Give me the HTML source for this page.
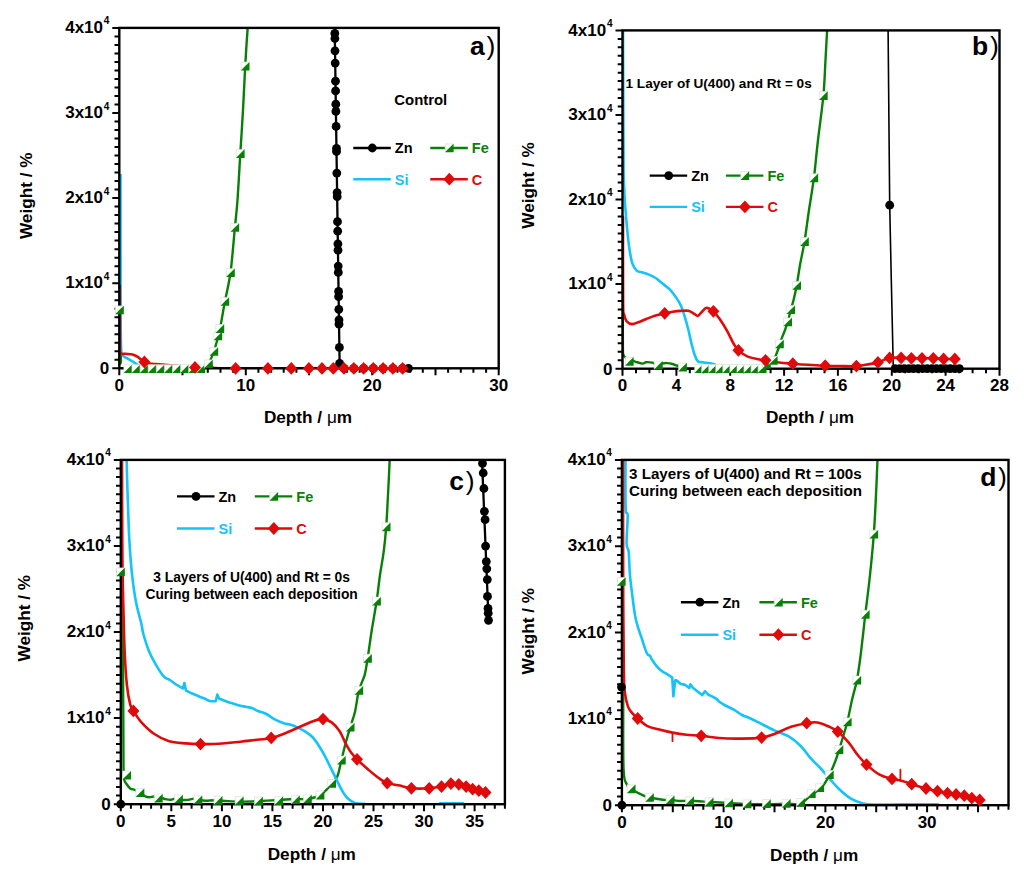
<!DOCTYPE html>
<html><head><meta charset="utf-8"><style>
html,body{margin:0;padding:0;background:#fff;}
svg{display:block;}
text{font-family:"Liberation Sans", sans-serif;}
.t{font-size:17px;font-weight:bold;fill:#000;}
.s{font-size:10px;font-weight:bold;fill:#000;}
.ti{font-size:17.2px;font-weight:bold;fill:#000;}
.mu{font-weight:normal;}
.lg{font-size:14.5px;font-weight:bold;}
.ann{font-size:14.5px;font-weight:bold;fill:#000;}
.pl{font-size:26.5px;font-weight:bold;fill:#000;}
.pr{font-size:26.5px;fill:#000;}
</style></head><body>
<svg width="1024" height="877" viewBox="0 0 1024 877">
<defs>
<circle id="zn" r="4.4" fill="#000"/>
<path id="c" d="M0 -6.4L6 0L0 6.4L-6 0Z" fill="#e00a0a"/>
<g id="fe"><path d="M-4.1 4.1L-4.1 -4.1L4.1 -4.1Z" fill="#fff" stroke="#cfe6cf" stroke-width="0.7"/><path d="M-4.3 4.3L4.3 -4.3L4.3 4.3Z" fill="#088008"/></g>
</defs>
<rect width="1024" height="877" fill="#fff"/>
<clipPath id="cpa"><rect x="119.3" y="27.9" width="379.4" height="340.4"/></clipPath>
<g clip-path="url(#cpa)">
<polyline points="334.7,28 339.6,363 340.2,368.3 408.5,368.3" fill="none" stroke="#000" stroke-width="2.3" stroke-linejoin="round" stroke-linecap="round"/>
<path d="M119.5 310C119.7 315 120.2 331.3 120.5 340C120.8 348.7 120.8 357.2 121 362C121.2 366.8 107.8 367.5 122 368.6C136.2 369.7 191.6 369.4 206 368.6C220.4 367.8 207.2 366.9 208.5 364C209.8 361.1 212 357.3 213.9 351.5C215.8 345.7 218.1 337.3 219.9 329C221.7 320.7 223.1 310.9 224.9 301.5C226.7 292.1 228.8 284.8 230.5 272.5C232.2 260.2 233.7 239.6 234.9 227.5C236.1 215.4 236.6 212.3 237.5 200C238.4 187.7 239.4 168.6 240.3 153.6C241.2 138.6 242.2 124.6 243 110C243.8 95.4 244.6 77 245.2 66.2C245.8 55.4 246.1 51.4 246.5 45C246.9 38.6 247.5 30.8 247.7 28" fill="none" stroke="#088008" stroke-width="2.4" stroke-linejoin="round" stroke-linecap="round"/>
<path d="M120.5 175C120.5 195.8 120.5 271.5 120.6 300C120.7 328.5 120.7 337 121 346C121.3 355 121.7 352.2 122.3 354C122.9 355.8 123.6 356.2 124.5 357C125.4 357.8 126.4 357.9 127.7 358.6C129.1 359.4 131.2 360.6 132.6 361.5C134 362.4 134.9 363.1 136 363.8C137.1 364.5 138.5 365.2 139 365.5" fill="none" stroke="#14c3f7" stroke-width="2.6" stroke-linejoin="round" stroke-linecap="round"/>
<path d="M119.8 285.8C119.8 294.8 119.9 328.8 120 340C120.1 351.2 119.6 350.5 120.4 352.8C121.2 355.1 122.8 353.5 124.8 353.8C126.8 354.1 130.3 353.8 132.6 354.4C134.9 355 136.4 356 138.4 357.3C140.4 358.6 142 361.1 144.3 362.2C146.6 363.3 149.7 363.3 152.1 363.7C154.5 364.1 155.2 364 159 364.3C162.8 364.6 169 365.1 175 365.6C181 366.1 188.3 366.9 195 367.3C201.7 367.7 208.2 367.8 215 368C221.8 368.2 204.3 368.2 235.6 368.3C266.9 368.4 374.8 368.4 402.6 368.4" fill="none" stroke="#e00a0a" stroke-width="2.6" stroke-linejoin="round" stroke-linecap="round"/>
</g>
<rect x="119.3" y="27.9" width="379.4" height="340.4" fill="none" stroke="#000" stroke-width="2.4"/>
<path d="M119.3 368.3v7 M131.9 368.3v4.5 M144.6 368.3v4.5 M157.2 368.3v4.5 M169.9 368.3v4.5 M182.5 368.3v7 M195.2 368.3v4.5 M207.8 368.3v4.5 M220.5 368.3v4.5 M233.1 368.3v4.5 M245.8 368.3v7 M258.4 368.3v4.5 M271.1 368.3v4.5 M283.7 368.3v4.5 M296.4 368.3v4.5 M309 368.3v7 M321.6 368.3v4.5 M334.3 368.3v4.5 M346.9 368.3v4.5 M359.6 368.3v4.5 M372.2 368.3v7 M384.9 368.3v4.5 M397.5 368.3v4.5 M410.2 368.3v4.5 M422.8 368.3v4.5 M435.5 368.3v7 M448.1 368.3v4.5 M460.8 368.3v4.5 M473.4 368.3v4.5 M486.1 368.3v4.5 M498.7 368.3v7 M119.3 368.3h-7 M119.3 359.8h-4.8 M119.3 351.3h-4.8 M119.3 342.8h-4.8 M119.3 334.3h-4.8 M119.3 325.8h-4.8 M119.3 317.2h-4.8 M119.3 308.7h-4.8 M119.3 300.2h-4.8 M119.3 291.7h-4.8 M119.3 283.2h-7 M119.3 274.7h-4.8 M119.3 266.2h-4.8 M119.3 257.7h-4.8 M119.3 249.2h-4.8 M119.3 240.6h-4.8 M119.3 232.1h-4.8 M119.3 223.6h-4.8 M119.3 215.1h-4.8 M119.3 206.6h-4.8 M119.3 198.1h-7 M119.3 189.6h-4.8 M119.3 181.1h-4.8 M119.3 172.6h-4.8 M119.3 164.1h-4.8 M119.3 155.6h-4.8 M119.3 147h-4.8 M119.3 138.5h-4.8 M119.3 130h-4.8 M119.3 121.5h-4.8 M119.3 113h-7 M119.3 104.5h-4.8 M119.3 96h-4.8 M119.3 87.5h-4.8 M119.3 79h-4.8 M119.3 70.4h-4.8 M119.3 61.9h-4.8 M119.3 53.4h-4.8 M119.3 44.9h-4.8 M119.3 36.4h-4.8 M119.3 27.9h-7" stroke="#000" stroke-width="2" fill="none"/>
<text x="109.3" y="374.1" text-anchor="end" class="t">0</text>
<text x="103" y="288.4" text-anchor="end" class="t">1x10</text>
<text x="103.7" y="279.7" class="s">4</text>
<text x="103" y="203.3" text-anchor="end" class="t">2x10</text>
<text x="103.7" y="194.6" class="s">4</text>
<text x="103" y="118.2" text-anchor="end" class="t">3x10</text>
<text x="103.7" y="109.5" class="s">4</text>
<text x="103" y="33.1" text-anchor="end" class="t">4x10</text>
<text x="103.7" y="24.4" class="s">4</text>
<text x="119.3" y="390.6" text-anchor="middle" class="t">0</text>
<text x="245.8" y="390.6" text-anchor="middle" class="t">10</text>
<text x="372.2" y="390.6" text-anchor="middle" class="t">20</text>
<text x="498.7" y="390.6" text-anchor="middle" class="t">30</text>
<text transform="translate(31.6 195.8) rotate(-90)" text-anchor="middle" class="ti">Weight / %</text>
<text x="308" y="423.1" text-anchor="middle" class="ti">Depth / <tspan class="mu">μ</tspan>m</text>
<use href="#zn" x="334.8" y="33.4"/>
<use href="#zn" x="334.9" y="38.5"/>
<use href="#zn" x="335" y="50.8"/>
<use href="#zn" x="335.2" y="63.1"/>
<use href="#zn" x="335.5" y="81.2"/>
<use href="#zn" x="335.6" y="90.9"/>
<use href="#zn" x="335.8" y="104.2"/>
<use href="#zn" x="335.9" y="111.4"/>
<use href="#zn" x="336.1" y="126.4"/>
<use href="#zn" x="336.5" y="148.4"/>
<use href="#zn" x="336.5" y="151.5"/>
<use href="#zn" x="336.8" y="173.1"/>
<use href="#zn" x="337.1" y="192.6"/>
<use href="#zn" x="337.2" y="196.7"/>
<use href="#zn" x="337.5" y="221.7"/>
<use href="#zn" x="337.7" y="231.2"/>
<use href="#zn" x="337.9" y="243.9"/>
<use href="#zn" x="338" y="250.2"/>
<use href="#zn" x="338.2" y="266.1"/>
<use href="#zn" x="338.3" y="272.4"/>
<use href="#zn" x="338.6" y="291.4"/>
<use href="#zn" x="338.6" y="296.7"/>
<use href="#zn" x="338.8" y="309.4"/>
<use href="#zn" x="339" y="319.9"/>
<use href="#zn" x="339" y="324.2"/>
<use href="#zn" x="339.4" y="347.4"/>
<use href="#zn" x="339.6" y="363.3"/>
<use href="#zn" x="344" y="368.3"/>
<use href="#zn" x="353.8" y="368.3"/>
<use href="#zn" x="363.6" y="368.3"/>
<use href="#zn" x="373.3" y="368.3"/>
<use href="#zn" x="383.1" y="368.3"/>
<use href="#zn" x="392.9" y="368.3"/>
<use href="#zn" x="402.6" y="368.3"/>
<use href="#zn" x="408.5" y="368.3"/>
<use href="#fe" x="119.5" y="310"/>
<use href="#fe" x="128" y="368.8"/>
<use href="#fe" x="136.1" y="368.8"/>
<use href="#fe" x="144.2" y="368.8"/>
<use href="#fe" x="152.3" y="368.8"/>
<use href="#fe" x="160.4" y="368.8"/>
<use href="#fe" x="168.5" y="368.8"/>
<use href="#fe" x="176.6" y="368.8"/>
<use href="#fe" x="184.7" y="368.8"/>
<use href="#fe" x="192.8" y="368.8"/>
<use href="#fe" x="200.9" y="368.8"/>
<use href="#fe" x="208.5" y="364"/>
<use href="#fe" x="213.9" y="351.5"/>
<use href="#fe" x="217.9" y="336"/>
<use href="#fe" x="219.9" y="328.6"/>
<use href="#fe" x="224.9" y="301.5"/>
<use href="#fe" x="230.5" y="272.8"/>
<use href="#fe" x="234.9" y="227.5"/>
<use href="#fe" x="240.3" y="153.6"/>
<use href="#fe" x="245.2" y="66.2"/>
<use href="#c" x="144.4" y="362"/>
<use href="#c" x="195" y="367.4"/>
<use href="#c" x="235.6" y="368.4"/>
<use href="#c" x="267.9" y="368.4"/>
<use href="#c" x="291.3" y="368.4"/>
<use href="#c" x="308.9" y="368.4"/>
<use href="#c" x="322" y="368.4"/>
<use href="#c" x="333.3" y="368.4"/>
<use href="#c" x="344" y="368.4"/>
<use href="#c" x="353.8" y="368.4"/>
<use href="#c" x="363.6" y="368.4"/>
<use href="#c" x="373.3" y="368.4"/>
<use href="#c" x="383.1" y="368.4"/>
<use href="#c" x="392.9" y="368.4"/>
<use href="#c" x="402.6" y="368.4"/>
<clipPath id="cpb"><rect x="622.5" y="30.4" width="377" height="338.3"/></clipPath>
<g clip-path="url(#cpb)">
<polyline points="888.1,30.7 889.7,205.2 891.3,280 893.3,368.4 960,368.6" fill="none" stroke="#000" stroke-width="1.6" stroke-linejoin="round" stroke-linecap="round"/>
<path d="M622.8 300C622.8 308.1 622.8 339.5 622.9 348.7C623 357.9 623.3 353.7 623.7 355.2C624.1 356.7 624.5 356.5 625.5 357.5C626.5 358.5 628.1 360.8 629.4 361.4C630.7 362 632.4 360.9 633.4 361C634.4 361.1 634.1 361.4 635.6 361.8C637.1 362.2 640.9 363.5 642.6 363.6C644.4 363.7 644.5 362.4 646.1 362.2C647.7 362 650.2 362.2 652.3 362.7C654.3 363.2 656.8 365.1 658.4 365.3C660 365.5 660.5 364 662 363.6C663.5 363.2 665.5 363 667.2 363.1C669 363.2 671 363.6 672.5 364C674 364.4 674.3 364.8 676 365.3C677.7 365.8 680.3 366.6 682.6 367.1C684.9 367.6 677.1 368.2 690 368.4C702.9 368.6 747.5 368.8 760 368.4C772.5 368 762.8 367.3 765 366C767.2 364.7 771 363.6 773.3 360.5C775.6 357.4 777.6 350.7 778.8 347.5C780 344.3 779.5 344.4 780.5 341.5C781.5 338.6 783.8 333.2 785 330C786.2 326.8 786.7 325.4 787.7 322C788.7 318.6 789.8 313.3 790.8 309.7C791.8 306.1 792.5 304.3 793.5 300.3C794.5 296.3 795.6 291.4 796.7 285.5C797.8 279.6 798.7 272.3 800 265C801.3 257.7 803 250.8 804.5 241.6C806 232.4 807.4 220.6 809 210C810.6 199.4 812.4 189.6 813.9 177.9C815.4 166.2 816.4 153.7 818 140C819.6 126.3 822.1 108.9 823.4 95.6C824.6 82.3 824.9 70.8 825.5 60C826.1 49.2 826.8 35.5 827.1 30.6" fill="none" stroke="#088008" stroke-width="2.4" stroke-linejoin="round" stroke-linecap="round"/>
<path d="M623 30.8C623 42.3 623.2 76.8 623.3 100C623.4 123.2 623.4 155 623.6 170C623.8 185 624 184.1 624.3 190C624.5 195.9 624.6 198.8 625.1 205.2C625.6 211.6 626.4 221.2 627.1 228.5C627.8 235.8 628.5 243 629.4 248.8C630.3 254.6 631.1 259.8 632.3 263.4C633.5 267 635.2 269.2 636.7 270.6C638.2 272 639.1 271.4 641 272C642.9 272.6 645.9 273.4 648.3 274.4C650.7 275.4 653.3 276.6 655.6 278C657.9 279.4 659.5 281.2 661.9 283.1C664.2 285 667.4 287 669.7 289.4C672 291.8 674.1 294.6 675.9 297.2C677.7 299.8 679.2 301.9 680.6 305C682 308.1 683.2 311.7 684.5 315.9C685.8 320.1 687.2 325.3 688.4 330C689.6 334.7 690.5 339.8 691.6 344C692.7 348.2 693.7 352.1 694.7 355C695.7 357.9 696.5 360 697.8 361.2C699.1 362.4 700.7 362 702.5 362.3C704.3 362.6 706.7 362.8 708.8 363.1C710.8 363.5 714 364.2 715 364.4" fill="none" stroke="#14c3f7" stroke-width="2.6" stroke-linejoin="round" stroke-linecap="round"/>
<path d="M623 217C623 231.4 622.9 287.2 623.1 303.4C623.3 319.6 623.5 311.4 624.1 314.4C624.7 317.4 625.4 319.8 626.7 321.4C628.1 323 630.2 324 632.2 324.1C634.2 324.2 636 323.1 638.4 322.2C640.8 321.3 643.4 320.1 646.3 319C649.2 317.9 652.5 316.6 655.6 315.6C658.7 314.7 661.8 314 664.7 313.3C667.6 312.6 670.1 312.1 672.8 311.7C675.4 311.3 678 311 680.6 310.9C683.2 310.8 686.2 310.4 688.4 310.8C690.6 311.2 692.3 312.8 693.9 313.6C695.5 314.5 696.6 316 697.8 315.9C699 315.8 699.6 314.1 700.9 312.8C702.2 311.5 704.2 308.8 705.6 308.1C707 307.4 707.7 308 709 308.5C710.3 309 711.6 309.6 713.4 311.3C715.2 313.1 717.4 315.6 719.7 319C722.1 322.4 725.2 327.4 727.5 331.6C729.8 335.8 731.9 340.9 733.8 344C735.6 347.1 736.1 348.2 738.4 350.3C740.7 352.4 743.4 354.9 747.8 356.6C752.2 358.3 759.8 359.5 765 360.5C770.2 361.5 774.4 362 779 362.5C783.6 363 788 363.3 792.8 363.7C797.6 364.1 802.6 364.5 808 364.8C813.4 365.1 819.9 365.5 825.2 365.7C830.5 365.9 834.8 365.9 840 366C845.2 366.1 851.9 366.4 856.4 366.1C860.9 365.9 863.4 365.1 867 364.5C870.6 363.9 874.1 363.5 877.9 362.4C881.7 361.3 885.7 358.6 889.6 357.9C893.5 357.1 897.5 357.8 901.1 357.9C904.7 358 907.9 358.2 911.4 358.3C914.9 358.4 918.4 358.3 922 358.3C925.6 358.3 929.7 358.2 933.3 358.3C936.9 358.4 940 358.9 943.6 359C947.2 359.1 952.9 359 954.8 359" fill="none" stroke="#e00a0a" stroke-width="2.6" stroke-linejoin="round" stroke-linecap="round"/>
</g>
<rect x="622.5" y="30.4" width="377" height="338.3" fill="none" stroke="#000" stroke-width="2.4"/>
<path d="M622.5 368.7v7 M636 368.7v4.5 M649.4 368.7v4.5 M662.9 368.7v4.5 M676.4 368.7v7 M689.8 368.7v4.5 M703.3 368.7v4.5 M716.8 368.7v4.5 M730.2 368.7v7 M743.7 368.7v4.5 M757.1 368.7v4.5 M770.6 368.7v4.5 M784.1 368.7v7 M797.5 368.7v4.5 M811 368.7v4.5 M824.5 368.7v4.5 M837.9 368.7v7 M851.4 368.7v4.5 M864.9 368.7v4.5 M878.3 368.7v4.5 M891.8 368.7v7 M905.2 368.7v4.5 M918.7 368.7v4.5 M932.2 368.7v4.5 M945.6 368.7v7 M959.1 368.7v4.5 M972.6 368.7v4.5 M986 368.7v4.5 M999.5 368.7v7 M622.5 368.7h-7 M622.5 360.2h-4.8 M622.5 351.8h-4.8 M622.5 343.3h-4.8 M622.5 334.9h-4.8 M622.5 326.4h-4.8 M622.5 318h-4.8 M622.5 309.5h-4.8 M622.5 301h-4.8 M622.5 292.6h-4.8 M622.5 284.1h-7 M622.5 275.7h-4.8 M622.5 267.2h-4.8 M622.5 258.8h-4.8 M622.5 250.3h-4.8 M622.5 241.8h-4.8 M622.5 233.4h-4.8 M622.5 224.9h-4.8 M622.5 216.5h-4.8 M622.5 208h-4.8 M622.5 199.5h-7 M622.5 191.1h-4.8 M622.5 182.6h-4.8 M622.5 174.2h-4.8 M622.5 165.7h-4.8 M622.5 157.3h-4.8 M622.5 148.8h-4.8 M622.5 140.3h-4.8 M622.5 131.9h-4.8 M622.5 123.4h-4.8 M622.5 115h-7 M622.5 106.5h-4.8 M622.5 98.1h-4.8 M622.5 89.6h-4.8 M622.5 81.1h-4.8 M622.5 72.7h-4.8 M622.5 64.2h-4.8 M622.5 55.8h-4.8 M622.5 47.3h-4.8 M622.5 38.9h-4.8 M622.5 30.4h-7" stroke="#000" stroke-width="2" fill="none"/>
<text x="612.5" y="374.5" text-anchor="end" class="t">0</text>
<text x="606.2" y="289.3" text-anchor="end" class="t">1x10</text>
<text x="606.9" y="280.6" class="s">4</text>
<text x="606.2" y="204.7" text-anchor="end" class="t">2x10</text>
<text x="606.9" y="196" class="s">4</text>
<text x="606.2" y="120.2" text-anchor="end" class="t">3x10</text>
<text x="606.9" y="111.5" class="s">4</text>
<text x="606.2" y="35.6" text-anchor="end" class="t">4x10</text>
<text x="606.9" y="26.9" class="s">4</text>
<text x="622.5" y="391" text-anchor="middle" class="t">0</text>
<text x="676.4" y="391" text-anchor="middle" class="t">4</text>
<text x="730.2" y="391" text-anchor="middle" class="t">8</text>
<text x="784.1" y="391" text-anchor="middle" class="t">12</text>
<text x="837.9" y="391" text-anchor="middle" class="t">16</text>
<text x="891.8" y="391" text-anchor="middle" class="t">20</text>
<text x="945.6" y="391" text-anchor="middle" class="t">24</text>
<text x="999.5" y="391" text-anchor="middle" class="t">28</text>
<text transform="translate(533.5 185.4) rotate(-90)" text-anchor="middle" class="ti">Weight / %</text>
<text x="810" y="423.4" text-anchor="middle" class="ti">Depth / <tspan class="mu">μ</tspan>m</text>
<use href="#zn" x="889.7" y="205.2"/>
<use href="#zn" x="895" y="368.6"/>
<use href="#zn" x="899.6" y="368.6"/>
<use href="#zn" x="904.2" y="368.6"/>
<use href="#zn" x="908.8" y="368.6"/>
<use href="#zn" x="913.4" y="368.6"/>
<use href="#zn" x="918" y="368.6"/>
<use href="#zn" x="922.6" y="368.6"/>
<use href="#zn" x="927.2" y="368.6"/>
<use href="#zn" x="931.8" y="368.6"/>
<use href="#zn" x="936.4" y="368.6"/>
<use href="#zn" x="941" y="368.6"/>
<use href="#zn" x="945.6" y="368.6"/>
<use href="#zn" x="950.2" y="368.6"/>
<use href="#zn" x="954.8" y="368.6"/>
<use href="#zn" x="959.4" y="368.6"/>
<use href="#fe" x="629.4" y="361.4"/>
<use href="#fe" x="658.4" y="365.3"/>
<use href="#fe" x="682.6" y="367.1"/>
<use href="#fe" x="698.8" y="368.6"/>
<use href="#fe" x="705.8" y="368.6"/>
<use href="#fe" x="712.9" y="368.6"/>
<use href="#fe" x="719.9" y="368.6"/>
<use href="#fe" x="727" y="368.6"/>
<use href="#fe" x="734" y="368.6"/>
<use href="#fe" x="741.1" y="368.6"/>
<use href="#fe" x="748.1" y="368.6"/>
<use href="#fe" x="755.2" y="368.6"/>
<use href="#fe" x="762.2" y="368.6"/>
<use href="#fe" x="766.5" y="364.5"/>
<use href="#fe" x="773.3" y="360.5"/>
<use href="#fe" x="779.5" y="344"/>
<use href="#fe" x="787.7" y="322"/>
<use href="#fe" x="790.8" y="309.7"/>
<use href="#fe" x="796.7" y="285.5"/>
<use href="#fe" x="804.5" y="241.6"/>
<use href="#fe" x="813.9" y="177.9"/>
<use href="#fe" x="823.4" y="95.6"/>
<use href="#c" x="664.7" y="313.3"/>
<use href="#c" x="713.4" y="311.3"/>
<use href="#c" x="738.4" y="350.3"/>
<use href="#c" x="765.5" y="360.3"/>
<use href="#c" x="792.8" y="363.7"/>
<use href="#c" x="825.2" y="365.7"/>
<use href="#c" x="856.4" y="366.1"/>
<use href="#c" x="877.9" y="362.4"/>
<use href="#c" x="889.6" y="357.9"/>
<use href="#c" x="901.1" y="357.9"/>
<use href="#c" x="911.4" y="358.3"/>
<use href="#c" x="922" y="358.3"/>
<use href="#c" x="933.3" y="358.3"/>
<use href="#c" x="943.6" y="359"/>
<use href="#c" x="954.8" y="359"/>
<clipPath id="cpc"><rect x="120.8" y="459.9" width="384.1" height="344.3"/></clipPath>
<g clip-path="url(#cpc)">
<polyline points="482,459.9 488.6,621" fill="none" stroke="#000" stroke-width="2.3" stroke-linejoin="round" stroke-linecap="round"/>
<path d="M121.5 572C121.7 580 122.3 598.7 122.6 620C122.9 641.3 123 675.5 123.2 700C123.4 724.5 123.3 753.7 123.5 767C123.7 780.3 123.7 776.8 124.2 779.6C124.7 782.4 125.5 782.5 126.5 784C127.5 785.5 128.9 787.4 130.3 788.4C131.7 789.4 133.2 789.3 135 790C136.8 790.7 139.2 791.7 140.9 792.8C142.6 793.9 143.9 795.7 145.3 796.4C146.8 797.1 148.2 797.2 149.6 797.2C151 797.2 152.2 796.5 154 796.5C155.8 796.5 158.4 796.8 160.2 797.2C162 797.6 163.2 798.6 165 799C166.8 799.4 168.9 799.9 170.7 799.8C172.5 799.7 174.1 798.5 176 798.5C177.9 798.5 179.9 799.8 182 800C184.1 800.2 186.1 800 188.3 799.8C190.5 799.5 193.1 798.5 195 798.5C196.9 798.5 198.2 799.6 200 800C201.8 800.4 203.4 800.7 205.9 800.7C208.4 800.7 211.8 800.2 215 800.2C218.2 800.2 220.7 800.8 225 801C229.3 801.2 235.2 801.6 241 801.6C246.8 801.6 253.6 801.3 260 801C266.4 800.7 273.9 800.3 279.4 800C284.9 799.7 288.1 799.2 293 799C297.9 798.8 304 799.6 308.5 799C313 798.4 317 796.7 320.1 795.1C323.2 793.5 325 791.2 326.9 789.3C328.8 787.4 329.9 785.8 331.7 783.5C333.5 781.2 336 779.6 337.6 775.7C339.2 771.8 339.9 766 341.4 760.2C342.8 754.4 344.8 746.3 346.3 740.8C347.8 735.3 348.8 732.1 350.2 727.3C351.6 722.4 353.6 717.9 355 711.7C356.4 705.6 357.3 696.5 358.9 690.4C360.5 684.3 363.2 680.2 364.7 674.9C366.1 669.6 366.4 665.9 367.6 658.4C368.8 650.9 370.3 639.5 371.8 630C373.3 620.5 375.2 610.4 376.6 601.2C378 592 378.8 583.4 380 575C381.2 566.6 382.8 558.9 383.8 550.9C384.8 542.9 385.5 536.2 386.2 526.9C386.9 517.6 387.4 506.2 388 495C388.6 483.8 389.4 465.7 389.7 459.8" fill="none" stroke="#088008" stroke-width="2.4" stroke-linejoin="round" stroke-linecap="round"/>
<path d="M126.6 460C126.8 466.2 127.2 484 127.7 497.2C128.2 510.4 128.6 526.8 129.3 539.4C130 552 130.8 562.6 131.9 573.1C133 583.6 134.5 594.2 136.1 602.6C137.7 611 140.2 618.6 141.4 623.7C142.6 628.8 141.9 628.6 143.1 633C144.3 637.4 146.6 645.2 148.6 650.3C150.6 655.3 152.6 659 155.1 663.3C157.6 667.6 161.2 673.5 163.7 676.3C166.2 679.1 167.9 678.6 170 680C172.1 681.4 173.8 683.1 176 684.5C178.2 685.9 181.8 687.8 182.9 688.5L182.9 688.5L184.4 682.9L186 690.5L186 690.5C187 691 190.3 692.8 192 693.5C193.7 694.2 194.4 694.3 196 695C197.6 695.7 200.1 696.9 201.6 697.5C203.1 698.1 203.6 698.2 205 698.8C206.4 699.4 208 700.6 209.8 701C211.6 701.4 214.7 701.2 215.7 701.2L215.7 701.2L217.3 694.6L219.2 698.7L219.2 698.7C220 699 222.4 699.9 224 700.5C225.6 701.1 226.9 701.7 228.6 702.2C230.3 702.8 232.1 703.2 234 703.8C235.9 704.4 238.3 705.2 240.3 705.7C242.3 706.2 244.1 706.4 246 706.8C247.9 707.2 250 707.4 252 708.1C254 708.8 256.2 710.3 257.9 711C259.6 711.7 260.4 711.6 262 712.2C263.6 712.8 265.2 713.3 267.3 714.5C269.4 715.7 271.6 717.7 274.3 719.2C277 720.7 281.1 722.4 283.7 723.3C286.3 724.2 288.1 724 290 724.5C291.9 725 292.5 725.2 294.9 726.3C297.3 727.4 301.7 729.3 304.6 731.1C307.5 732.9 310.1 734.7 312.4 737C314.7 739.3 316.3 741.8 318.2 744.7C320.1 747.6 322.1 750.9 324 754.4C325.9 757.9 327.9 762.1 329.8 766C331.7 769.9 333.7 773.8 335.6 777.7C337.5 781.6 339.4 785.9 341.4 789.3C343.3 792.7 345 795.7 347.3 798C349.6 800.3 352.1 801.9 355 802.9C357.9 803.9 363.1 803.7 364.7 803.9" fill="none" stroke="#14c3f7" stroke-width="2.6" stroke-linejoin="round" stroke-linecap="round"/>
<polyline points="440,803.3 463,803.3" fill="none" stroke="#14c3f7" stroke-width="2.6" stroke-linejoin="round" stroke-linecap="round"/>
<path d="M122 460C122.1 476.7 122.1 533.3 122.4 560C122.7 586.7 123.3 604.6 123.7 620C124.1 635.4 124.2 641.7 124.7 652.5C125.2 663.3 126 676.4 126.9 685C127.8 693.6 129.1 700.1 130.2 704.4C131.3 708.7 131.6 708 133.4 710.9C135.2 713.8 137.6 718 141 721.8C144.4 725.6 149.3 730.5 154 733.7C158.7 736.9 163.7 739.6 169.1 741.2C174.5 742.8 181.2 742.9 186.4 743.4C191.6 743.9 195.1 744 200.5 744.1C205.9 744.2 212.2 744.2 218.9 743.8C225.6 743.4 234.6 742.3 240.6 741.7C246.6 741.1 249.8 740.6 255 740C260.2 739.4 266.9 738.9 271.6 737.9C276.3 736.9 278.8 735.8 283.3 734C287.8 732.2 294 729.4 298.8 727.3C303.6 725.2 308.4 722.8 312.4 721.4C316.4 720 319.8 718.9 323 719.1C326.2 719.3 328.9 720.4 331.7 722.4C334.4 724.4 337.2 727.7 339.5 731.1C341.8 734.5 343.4 739.2 345.3 742.8C347.2 746.4 349.2 749.8 351.1 752.5C353.1 755.2 354.1 756.4 357 759.3C359.9 762.2 365.1 766.8 368.6 769.9C372.2 773 375.2 775.5 378.3 777.7C381.4 779.9 383.4 781.8 387 783.1C390.6 784.4 395.9 784.7 400 785.6C404.1 786.5 406.5 787.8 411.4 788.3C416.3 788.8 424.2 788.6 429.2 788.3C434.2 788 437.9 787.4 441.5 786.6C445.1 785.8 448 784 450.9 783.6C453.8 783.2 456.3 783.8 458.8 784.3C461.3 784.8 463.8 785.8 466.1 786.6C468.4 787.4 470.5 788.5 472.6 789.2C474.7 789.9 476.7 790.1 478.8 790.6C480.9 791.1 484.4 792.2 485.5 792.5" fill="none" stroke="#e00a0a" stroke-width="2.6" stroke-linejoin="round" stroke-linecap="round"/>
</g>
<rect x="120.8" y="459.9" width="384.1" height="344.3" fill="none" stroke="#000" stroke-width="2.4"/>
<path d="M120.8 804.2v7 M130.9 804.2v4.5 M141 804.2v4.5 M151.1 804.2v4.5 M161.2 804.2v4.5 M171.3 804.2v7 M181.4 804.2v4.5 M191.6 804.2v4.5 M201.7 804.2v4.5 M211.8 804.2v4.5 M221.9 804.2v7 M232 804.2v4.5 M242.1 804.2v4.5 M252.2 804.2v4.5 M262.3 804.2v4.5 M272.4 804.2v7 M282.5 804.2v4.5 M292.6 804.2v4.5 M302.7 804.2v4.5 M312.8 804.2v4.5 M323 804.2v7 M333.1 804.2v4.5 M343.2 804.2v4.5 M353.3 804.2v4.5 M363.4 804.2v4.5 M373.5 804.2v7 M383.6 804.2v4.5 M393.7 804.2v4.5 M403.8 804.2v4.5 M413.9 804.2v4.5 M424 804.2v7 M434.1 804.2v4.5 M444.3 804.2v4.5 M454.4 804.2v4.5 M464.5 804.2v4.5 M474.6 804.2v7 M484.7 804.2v4.5 M494.8 804.2v4.5 M504.9 804.2v4.5 M120.8 804.2h-7 M120.8 795.6h-4.8 M120.8 787h-4.8 M120.8 778.4h-4.8 M120.8 769.8h-4.8 M120.8 761.2h-4.8 M120.8 752.6h-4.8 M120.8 743.9h-4.8 M120.8 735.3h-4.8 M120.8 726.7h-4.8 M120.8 718.1h-7 M120.8 709.5h-4.8 M120.8 700.9h-4.8 M120.8 692.3h-4.8 M120.8 683.7h-4.8 M120.8 675.1h-4.8 M120.8 666.5h-4.8 M120.8 657.9h-4.8 M120.8 649.3h-4.8 M120.8 640.7h-4.8 M120.8 632h-7 M120.8 623.4h-4.8 M120.8 614.8h-4.8 M120.8 606.2h-4.8 M120.8 597.6h-4.8 M120.8 589h-4.8 M120.8 580.4h-4.8 M120.8 571.8h-4.8 M120.8 563.2h-4.8 M120.8 554.6h-4.8 M120.8 546h-7 M120.8 537.4h-4.8 M120.8 528.8h-4.8 M120.8 520.2h-4.8 M120.8 511.5h-4.8 M120.8 502.9h-4.8 M120.8 494.3h-4.8 M120.8 485.7h-4.8 M120.8 477.1h-4.8 M120.8 468.5h-4.8 M120.8 459.9h-7" stroke="#000" stroke-width="2" fill="none"/>
<text x="110.8" y="810" text-anchor="end" class="t">0</text>
<text x="104.5" y="723.3" text-anchor="end" class="t">1x10</text>
<text x="105.2" y="714.6" class="s">4</text>
<text x="104.5" y="637.2" text-anchor="end" class="t">2x10</text>
<text x="105.2" y="628.5" class="s">4</text>
<text x="104.5" y="551.2" text-anchor="end" class="t">3x10</text>
<text x="105.2" y="542.5" class="s">4</text>
<text x="104.5" y="465.1" text-anchor="end" class="t">4x10</text>
<text x="105.2" y="456.4" class="s">4</text>
<text x="120.8" y="826.5" text-anchor="middle" class="t">0</text>
<text x="171.3" y="826.5" text-anchor="middle" class="t">5</text>
<text x="221.9" y="826.5" text-anchor="middle" class="t">10</text>
<text x="272.4" y="826.5" text-anchor="middle" class="t">15</text>
<text x="323" y="826.5" text-anchor="middle" class="t">20</text>
<text x="373.5" y="826.5" text-anchor="middle" class="t">25</text>
<text x="424" y="826.5" text-anchor="middle" class="t">30</text>
<text x="474.6" y="826.5" text-anchor="middle" class="t">35</text>
<text transform="translate(29.5 618.2) rotate(-90)" text-anchor="middle" class="ti">Weight / %</text>
<text x="311.8" y="860.2" text-anchor="middle" class="ti">Depth / <tspan class="mu">μ</tspan>m</text>
<use href="#zn" x="482.5" y="463.4"/>
<use href="#zn" x="483.2" y="473"/>
<use href="#zn" x="483.9" y="488.5"/>
<use href="#zn" x="484.4" y="511.3"/>
<use href="#zn" x="485.1" y="519.7"/>
<use href="#zn" x="485.6" y="546.1"/>
<use href="#zn" x="486.3" y="561.6"/>
<use href="#zn" x="486.8" y="568.8"/>
<use href="#zn" x="487.3" y="579.6"/>
<use href="#zn" x="487.5" y="596.4"/>
<use href="#zn" x="488" y="608.4"/>
<use href="#zn" x="488.2" y="613.2"/>
<use href="#zn" x="488.5" y="620.3"/>
<use href="#zn" x="120.8" y="804.2"/>
<use href="#fe" x="120.6" y="572"/>
<use href="#fe" x="126.8" y="775.2"/>
<use href="#fe" x="140" y="792.8"/>
<use href="#fe" x="158.4" y="798.1"/>
<use href="#fe" x="178.6" y="799"/>
<use href="#fe" x="198" y="799.8"/>
<use href="#fe" x="218.2" y="800.4"/>
<use href="#fe" x="239.3" y="800.7"/>
<use href="#fe" x="258.6" y="801"/>
<use href="#fe" x="278.8" y="800.8"/>
<use href="#fe" x="295.5" y="799.8"/>
<use href="#fe" x="307.5" y="799"/>
<use href="#fe" x="320.1" y="795.1"/>
<use href="#fe" x="331.7" y="783.5"/>
<use href="#fe" x="341.4" y="760.2"/>
<use href="#fe" x="350.2" y="727.3"/>
<use href="#fe" x="358.9" y="690.4"/>
<use href="#fe" x="367.6" y="658.4"/>
<use href="#fe" x="376.6" y="601.2"/>
<use href="#fe" x="386.2" y="526.9"/>
<use href="#c" x="133.4" y="710.9"/>
<use href="#c" x="200.5" y="744.1"/>
<use href="#c" x="271.2" y="737.9"/>
<use href="#c" x="323" y="719.1"/>
<use href="#c" x="357" y="759.3"/>
<use href="#c" x="387.2" y="783.1"/>
<use href="#c" x="411.4" y="788.3"/>
<use href="#c" x="429.2" y="788.3"/>
<use href="#c" x="441.5" y="786.6"/>
<use href="#c" x="450.9" y="783.6"/>
<use href="#c" x="458.8" y="784.3"/>
<use href="#c" x="466.1" y="786.6"/>
<use href="#c" x="472.6" y="789.2"/>
<use href="#c" x="478.8" y="790.6"/>
<use href="#c" x="485.5" y="792.5"/>
<clipPath id="cpd"><rect x="621.9" y="459.9" width="386.6" height="345.3"/></clipPath>
<g clip-path="url(#cpd)">
<polyline points="621.6,687 621.9,805" fill="none" stroke="#000" stroke-width="2.3" stroke-linejoin="round" stroke-linecap="round"/>
<path d="M622.5 581.5C622.6 597.9 623 649 623.2 680C623.4 711 622.9 749.8 623.5 767.2C624.1 784.6 625.6 780.9 626.9 784.5C628.2 788.1 628.5 787.1 631.2 788.9C633.9 790.7 640 794 643.1 795.4C646.2 796.8 646.4 796.8 649.6 797.5C652.9 798.2 659.2 799.3 662.6 799.7C666 800.1 667.3 799.5 670.2 799.7C673.1 799.9 676.8 800.8 680 801C683.2 801.2 684.8 800.6 689.7 800.8C694.6 800.9 702.7 801.5 709.2 801.9C715.7 802.3 722.4 802.6 728.7 803C735 803.4 740.8 803.8 747.1 804C753.4 804.2 760 804.2 766.5 804.2C773 804.2 780.6 803.9 786.3 803.8C792 803.7 796.5 804.9 800.7 803.4C804.9 801.9 808.2 797.4 811.4 795C814.6 792.6 817.5 791 819.8 789C822.1 787 823.4 785.3 825 783C826.6 780.7 827.7 778.5 829.4 775C831.1 771.5 833.4 766.2 835 762C836.6 757.8 837.7 754.2 839 750C840.3 745.8 841.6 741.7 843 737C844.4 732.3 845.8 728.2 847.3 722C848.8 715.8 850.4 707 852 700C853.6 693 855.6 686.9 856.9 680.2C858.2 673.5 859 667.5 860 660C861 652.5 862.1 642.6 863 635C863.9 627.4 864.1 624.4 865.3 614.4C866.5 604.4 868.6 588.4 870 575C871.4 561.6 872.8 547.6 873.8 534.3C874.8 521 875.4 507.4 876 495C876.6 482.6 877.2 465.8 877.5 460" fill="none" stroke="#088008" stroke-width="2.4" stroke-linejoin="round" stroke-linecap="round"/>
<path d="M625.5 460C625.5 466.7 625.4 491.3 625.5 500C625.6 508.7 625.6 509.3 626 512C626.4 514.7 627.6 510.9 627.7 516.2C627.8 521.5 626.4 537.6 626.6 543.6C626.8 549.6 628.2 547.1 628.7 552C629.2 556.9 629.3 566.4 629.8 573.1C630.3 579.8 631 585.1 631.9 592.1C632.8 599.1 634 609.3 635 615.3C636 621.3 637 623.8 638.2 627.9C639.4 632 641.1 636.4 642.3 640C643.5 643.6 644.4 647 645.3 649.4C646.2 651.8 646.8 653.4 647.6 654.5C648.4 655.6 649.3 655 650 655.8C650.7 656.6 650.6 657.6 651.7 659.3C652.8 661 654.8 663.9 656.4 665.8C658 667.7 659.5 669.2 661.1 670.5C662.7 671.8 663.9 672.2 665.8 673.4C667.6 674.6 671.1 676.8 672.2 677.5L672.2 677.5L673.4 696.3L675.2 680.4L675.2 680.4C675.5 680.4 675.9 680 676.9 680.6C677.9 681.2 679.6 683.3 681 684C682.4 684.7 683.7 684.1 685.1 684.8C686.5 685.5 688.5 687.5 689.2 688L689.2 688L690.4 684.3L692.7 687.5L692.7 687.5C693.3 688 694.7 689.1 696.3 690.4C697.9 691.7 701.1 694.3 702.1 695.1L702.1 695.1L705 691.2L708 694.5L708 694.5C709.4 695.2 714.2 697.3 716.2 698.6C718.2 699.9 718.3 701 719.7 702.1C721.1 703.2 722 703.7 724.4 705C726.8 706.3 730.9 708 733.8 709.7C736.7 711.4 739.7 713.7 742 715C744.3 716.3 744.8 715.9 747.8 717.3C750.8 718.7 755.6 721 760 723.2C764.4 725.4 769.6 728.2 774.4 730.4C779.2 732.6 784.3 733.8 788.7 736.4C793.1 739 797.1 742.4 800.7 746C804.3 749.6 807.1 754.3 810.3 757.9C813.5 761.5 816.6 764.1 819.8 767.5C823 770.9 826.2 774.7 829.4 778.3C832.6 781.9 835.4 785.6 839 789C842.6 792.4 846.9 796.2 850.9 798.6C854.9 801 859.3 802.4 862.9 803.4C866.5 804.4 866.3 804.4 872.5 804.6C878.7 804.8 889.1 804.5 900 804.4C910.9 804.3 931.7 804.2 938 804.2" fill="none" stroke="#14c3f7" stroke-width="2.6" stroke-linejoin="round" stroke-linecap="round"/>
<path d="M623 460C623 483.3 623.1 565 623.2 600C623.3 635 623.5 654.8 623.8 670C624 685.2 624 685.3 624.7 691.4C625.4 697.5 626.7 703 628 706.6C629.3 710.2 630.7 711.1 632.3 713.1C633.9 715.1 635.2 716.3 637.7 718.5C640.2 720.7 644.1 724.3 647.5 726.1C650.9 727.9 654.1 728.2 658.3 729.3C662.4 730.4 667.7 731.7 672.4 732.6C677.1 733.5 681.6 734.2 686.4 734.7C691.2 735.2 695.8 735.2 701.2 735.8C706.6 736.3 712.3 737.5 718.9 738C725.5 738.5 733.5 738.7 740.6 738.6C747.7 738.5 756 738.4 761.6 737.6C767.2 736.8 769.5 735.8 774.4 734C779.3 732.2 785.7 728.6 791.1 726.8C796.5 725 802.3 723.9 806.7 723.2C811.1 722.5 813.6 721.9 817.4 722.5C821.2 723.1 826 725.3 829.4 726.8C832.8 728.3 834.6 729 837.8 731.6C841 734.2 845.1 738.4 848.5 742.4C851.9 746.4 855.1 751.8 858.1 755.5C861.1 759.2 862.9 761.4 866.5 764.6C870.1 767.8 875.4 772.3 879.6 774.7C883.9 777.1 888.5 777.9 892 778.9C895.5 779.9 898.1 780 900.4 780.5C902.7 781 903.9 781.5 905.8 782.1C907.7 782.7 908.3 783.1 911.7 784.2C915.1 785.3 921.7 787.3 926 788.5C930.3 789.7 933.9 790.4 937.5 791.2C941.1 792 944.4 792.7 947.5 793.2C950.6 793.8 953.3 794.1 956.1 794.5C958.9 794.9 961.7 795.1 964.3 795.7C966.9 796.3 969.2 797.5 971.8 798.2C974.4 798.9 978.4 799.7 979.7 800" fill="none" stroke="#e00a0a" stroke-width="2.6" stroke-linejoin="round" stroke-linecap="round"/>
<line x1="672.5" y1="733" x2="672.5" y2="741.2" stroke="#e00a0a" stroke-width="1.8" stroke-linecap="round"/>
<line x1="900.4" y1="780.5" x2="900.4" y2="769.7" stroke="#e00a0a" stroke-width="1.8" stroke-linecap="round"/>
</g>
<rect x="621.9" y="459.9" width="386.6" height="345.3" fill="none" stroke="#000" stroke-width="2.4"/>
<path d="M621.9 805.2v7 M632.1 805.2v4.5 M642.2 805.2v4.5 M652.4 805.2v4.5 M662.6 805.2v4.5 M672.8 805.2v7 M682.9 805.2v4.5 M693.1 805.2v4.5 M703.3 805.2v4.5 M713.5 805.2v4.5 M723.6 805.2v7 M733.8 805.2v4.5 M744 805.2v4.5 M754.2 805.2v4.5 M764.3 805.2v4.5 M774.5 805.2v7 M784.7 805.2v4.5 M794.9 805.2v4.5 M805 805.2v4.5 M815.2 805.2v4.5 M825.4 805.2v7 M835.5 805.2v4.5 M845.7 805.2v4.5 M855.9 805.2v4.5 M866.1 805.2v4.5 M876.2 805.2v7 M886.4 805.2v4.5 M896.6 805.2v4.5 M906.8 805.2v4.5 M916.9 805.2v4.5 M927.1 805.2v7 M937.3 805.2v4.5 M947.5 805.2v4.5 M957.6 805.2v4.5 M967.8 805.2v4.5 M978 805.2v7 M988.2 805.2v4.5 M998.3 805.2v4.5 M1008.5 805.2v4.5 M621.9 805.2h-7 M621.9 796.6h-4.8 M621.9 787.9h-4.8 M621.9 779.3h-4.8 M621.9 770.7h-4.8 M621.9 762h-4.8 M621.9 753.4h-4.8 M621.9 744.8h-4.8 M621.9 736.1h-4.8 M621.9 727.5h-4.8 M621.9 718.9h-7 M621.9 710.2h-4.8 M621.9 701.6h-4.8 M621.9 693h-4.8 M621.9 684.3h-4.8 M621.9 675.7h-4.8 M621.9 667.1h-4.8 M621.9 658.4h-4.8 M621.9 649.8h-4.8 M621.9 641.2h-4.8 M621.9 632.5h-7 M621.9 623.9h-4.8 M621.9 615.3h-4.8 M621.9 606.7h-4.8 M621.9 598h-4.8 M621.9 589.4h-4.8 M621.9 580.8h-4.8 M621.9 572.1h-4.8 M621.9 563.5h-4.8 M621.9 554.9h-4.8 M621.9 546.2h-7 M621.9 537.6h-4.8 M621.9 529h-4.8 M621.9 520.3h-4.8 M621.9 511.7h-4.8 M621.9 503.1h-4.8 M621.9 494.4h-4.8 M621.9 485.8h-4.8 M621.9 477.2h-4.8 M621.9 468.5h-4.8 M621.9 459.9h-7" stroke="#000" stroke-width="2" fill="none"/>
<text x="611.9" y="811" text-anchor="end" class="t">0</text>
<text x="605.6" y="724.1" text-anchor="end" class="t">1x10</text>
<text x="606.3" y="715.4" class="s">4</text>
<text x="605.6" y="637.8" text-anchor="end" class="t">2x10</text>
<text x="606.3" y="629" class="s">4</text>
<text x="605.6" y="551.4" text-anchor="end" class="t">3x10</text>
<text x="606.3" y="542.7" class="s">4</text>
<text x="605.6" y="465.1" text-anchor="end" class="t">4x10</text>
<text x="606.3" y="456.4" class="s">4</text>
<text x="621.9" y="827.5" text-anchor="middle" class="t">0</text>
<text x="723.6" y="827.5" text-anchor="middle" class="t">10</text>
<text x="825.4" y="827.5" text-anchor="middle" class="t">20</text>
<text x="927.1" y="827.5" text-anchor="middle" class="t">30</text>
<text transform="translate(533.9 631.2) rotate(-90)" text-anchor="middle" class="ti">Weight / %</text>
<text x="814.2" y="861.3" text-anchor="middle" class="ti">Depth / <tspan class="mu">μ</tspan>m</text>
<use href="#zn" x="621.5" y="687.1"/>
<use href="#zn" x="621.9" y="805.2"/>
<use href="#fe" x="621.3" y="581.5"/>
<use href="#fe" x="631.2" y="788.9"/>
<use href="#fe" x="649.6" y="797.5"/>
<use href="#fe" x="670.2" y="799.7"/>
<use href="#fe" x="689.7" y="800.8"/>
<use href="#fe" x="709.2" y="801.9"/>
<use href="#fe" x="728.7" y="803"/>
<use href="#fe" x="747.1" y="804"/>
<use href="#fe" x="766.5" y="803.6"/>
<use href="#fe" x="786.3" y="803.4"/>
<use href="#fe" x="800.7" y="802.5"/>
<use href="#fe" x="811.4" y="793.8"/>
<use href="#fe" x="819.8" y="787.8"/>
<use href="#fe" x="829.4" y="774.7"/>
<use href="#fe" x="839" y="749.6"/>
<use href="#fe" x="847.3" y="722"/>
<use href="#fe" x="856.9" y="680.2"/>
<use href="#fe" x="865.3" y="614.4"/>
<use href="#fe" x="873.8" y="534.3"/>
<use href="#c" x="637.7" y="718.5"/>
<use href="#c" x="701.2" y="735.8"/>
<use href="#c" x="761.6" y="737.6"/>
<use href="#c" x="806.7" y="723.2"/>
<use href="#c" x="837.8" y="731.6"/>
<use href="#c" x="866.5" y="764.6"/>
<use href="#c" x="892" y="778.9"/>
<use href="#c" x="911.7" y="784.2"/>
<use href="#c" x="926" y="788.5"/>
<use href="#c" x="937.5" y="791.2"/>
<use href="#c" x="947.5" y="793.2"/>
<use href="#c" x="956.1" y="794.5"/>
<use href="#c" x="964.3" y="795.7"/>
<use href="#c" x="971.8" y="798.2"/>
<use href="#c" x="979.7" y="800"/>
<line x1="353.3" y1="148" x2="390.8" y2="148" stroke="#000" stroke-width="2.4"/>
<use href="#zn" x="372.3" y="148"/>
<text x="394.8" y="153.3" class="lg" fill="#000">Zn</text>
<line x1="430.3" y1="148" x2="467.8" y2="148" stroke="#088008" stroke-width="2.4"/>
<use href="#fe" x="449.3" y="148"/>
<text x="471.8" y="153.3" class="lg" fill="#088008">Fe</text>
<line x1="353.3" y1="179.2" x2="390.8" y2="179.2" stroke="#14c3f7" stroke-width="2.4"/>
<text x="394.8" y="184.5" class="lg" fill="#14c3f7">Si</text>
<line x1="430.3" y1="179.2" x2="467.8" y2="179.2" stroke="#e00a0a" stroke-width="2.4"/>
<use href="#c" x="449.3" y="179.2"/>
<text x="471.8" y="184.5" class="lg" fill="#e00a0a">C</text>
<line x1="649.7" y1="175.6" x2="687.2" y2="175.6" stroke="#000" stroke-width="2.4"/>
<use href="#zn" x="668.7" y="175.6"/>
<text x="691.2" y="180.9" class="lg" fill="#000">Zn</text>
<line x1="725.9" y1="175.6" x2="763.4" y2="175.6" stroke="#088008" stroke-width="2.4"/>
<use href="#fe" x="744.9" y="175.6"/>
<text x="767.4" y="180.9" class="lg" fill="#088008">Fe</text>
<line x1="649.7" y1="206.9" x2="687.2" y2="206.9" stroke="#14c3f7" stroke-width="2.4"/>
<text x="691.2" y="212.2" class="lg" fill="#14c3f7">Si</text>
<line x1="725.9" y1="206.9" x2="763.4" y2="206.9" stroke="#e00a0a" stroke-width="2.4"/>
<use href="#c" x="744.9" y="206.9"/>
<text x="767.4" y="212.2" class="lg" fill="#e00a0a">C</text>
<line x1="177" y1="496.4" x2="214.5" y2="496.4" stroke="#000" stroke-width="2.4"/>
<use href="#zn" x="196" y="496.4"/>
<text x="218.5" y="501.7" class="lg" fill="#000">Zn</text>
<line x1="254.8" y1="496.4" x2="292.3" y2="496.4" stroke="#088008" stroke-width="2.4"/>
<use href="#fe" x="273.8" y="496.4"/>
<text x="296.3" y="501.7" class="lg" fill="#088008">Fe</text>
<line x1="177" y1="528.5" x2="214.5" y2="528.5" stroke="#14c3f7" stroke-width="2.4"/>
<text x="218.5" y="533.8" class="lg" fill="#14c3f7">Si</text>
<line x1="254.8" y1="528.5" x2="292.3" y2="528.5" stroke="#e00a0a" stroke-width="2.4"/>
<use href="#c" x="273.8" y="528.5"/>
<text x="296.3" y="533.8" class="lg" fill="#e00a0a">C</text>
<line x1="680.9" y1="602.2" x2="718.4" y2="602.2" stroke="#000" stroke-width="2.4"/>
<use href="#zn" x="699.9" y="602.2"/>
<text x="722.4" y="607.5" class="lg" fill="#000">Zn</text>
<line x1="759.4" y1="602.2" x2="796.9" y2="602.2" stroke="#088008" stroke-width="2.4"/>
<use href="#fe" x="778.4" y="602.2"/>
<text x="800.9" y="607.5" class="lg" fill="#088008">Fe</text>
<line x1="680.9" y1="634.7" x2="718.4" y2="634.7" stroke="#14c3f7" stroke-width="2.4"/>
<text x="722.4" y="640" class="lg" fill="#14c3f7">Si</text>
<line x1="759.4" y1="634.7" x2="796.9" y2="634.7" stroke="#e00a0a" stroke-width="2.4"/>
<use href="#c" x="778.4" y="634.7"/>
<text x="800.9" y="640" class="lg" fill="#e00a0a">C</text>
<text x="394.3" y="105.2" class="ann" style="font-size:14.9px">Control</text>
<text x="625.5" y="88" class="ann" style="font-size:13.6px">1 Layer of U(400) and Rt = 0s</text>
<text x="251.6" y="582" text-anchor="middle" class="ann" style="font-size:13.8px">3 Layers of U(400) and Rt = 0s</text>
<text x="251.6" y="599.2" text-anchor="middle" class="ann" style="font-size:13.8px">Curing between each deposition</text>
<text x="629" y="479" class="ann" style="font-size:15.15px">3 Layers of U(400) and Rt = 100s</text>
<text x="629" y="495.6" class="ann" style="font-size:15.15px">Curing between each deposition</text>
<text x="470" y="54.8" class="pl">a</text><text x="486.5" y="54.8" class="pr">)</text>
<text x="972" y="55.1" class="pl">b</text><text x="990" y="55.1" class="pr">)</text>
<text x="449.3" y="489.6" class="pl">c</text><text x="465.7" y="489.6" class="pr">)</text>
<text x="980.2" y="485.6" class="pl">d</text><text x="997.9" y="485.6" class="pr">)</text>
</svg></body></html>
